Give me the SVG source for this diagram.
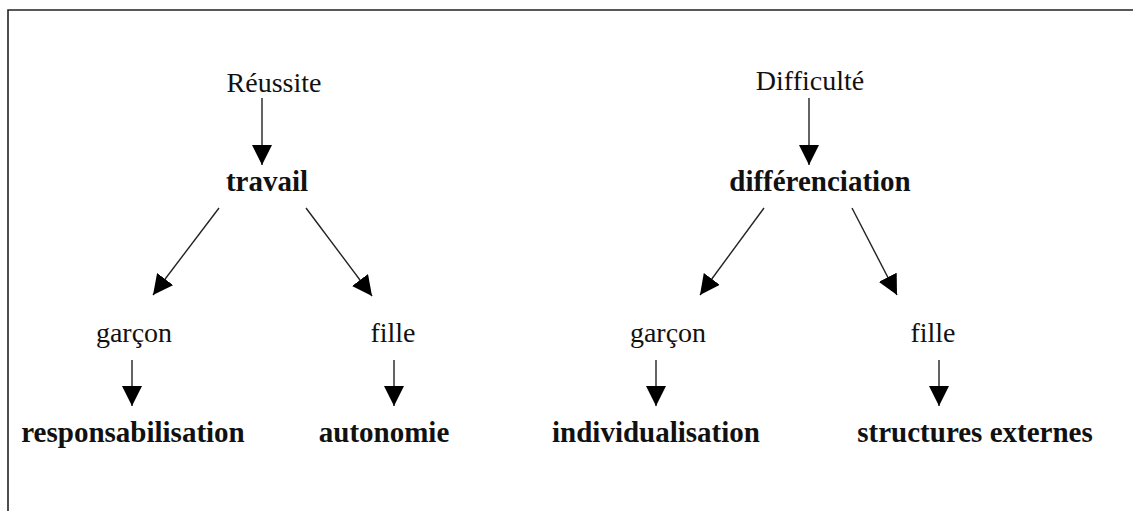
<svg xmlns="http://www.w3.org/2000/svg" width="1133" height="511" viewBox="0 0 1133 511">
<defs>
<style>
.t{font-family:"Liberation Serif","Times New Roman",serif;font-size:28px;fill:#111;text-anchor:middle}
.b{font-weight:bold;font-size:29px}
.c{stroke:#222;stroke-width:1.4;fill:none;marker-end:url(#ah)}
.frame{stroke:#222;stroke-width:1.6;fill:none}
</style>
<marker id="ah" markerUnits="userSpaceOnUse" markerWidth="20" markerHeight="20" viewBox="0 0 20 20" refX="20" refY="10" orient="auto">
<path d="M0,0 L20,10 L0,20 z" fill="#000"/>
</marker>
</defs>
<rect width="1133" height="511" fill="#fff"/>
<path class="frame" d="M8,511 V10 H1133"/>
<g id="connectors">
<line class="c" x1="262" y1="98" x2="262" y2="165"/>
<line class="c" x1="219" y1="208" x2="153" y2="295"/>
<line class="c" x1="306" y1="208" x2="372" y2="296"/>
<line class="c" x1="132" y1="360" x2="132" y2="406"/>
<line class="c" x1="394" y1="360" x2="394" y2="406"/>
<line class="c" x1="809" y1="98" x2="809" y2="165"/>
<line class="c" x1="764" y1="208" x2="700" y2="295"/>
<line class="c" x1="852" y1="208" x2="897" y2="295"/>
<line class="c" x1="656" y1="360" x2="656" y2="406"/>
<line class="c" x1="939" y1="360" x2="939" y2="406"/>
</g>
<g id="reussite"><text class="t" x="274" y="92">Réussite</text></g>
<g id="travail"><text class="t b" x="267" y="191">travail</text></g>
<g id="garcon1"><text class="t" x="134" y="342">garçon</text></g>
<g id="fille1"><text class="t" x="393" y="342">fille</text></g>
<g id="responsabilisation"><text class="t b" x="133" y="442">responsabilisation</text></g>
<g id="autonomie"><text class="t b" x="384" y="442">autonomie</text></g>
<g id="difficulte"><text class="t" x="810" y="90">Difficulté</text></g>
<g id="differenciation"><text class="t b" x="820" y="191">différenciation</text></g>
<g id="garcon2"><text class="t" x="668" y="342">garçon</text></g>
<g id="fille2"><text class="t" x="933" y="342">fille</text></g>
<g id="individualisation"><text class="t b" x="656" y="442">individualisation</text></g>
<g id="structures"><text class="t b" x="975" y="442">structures externes</text></g>
</svg>
